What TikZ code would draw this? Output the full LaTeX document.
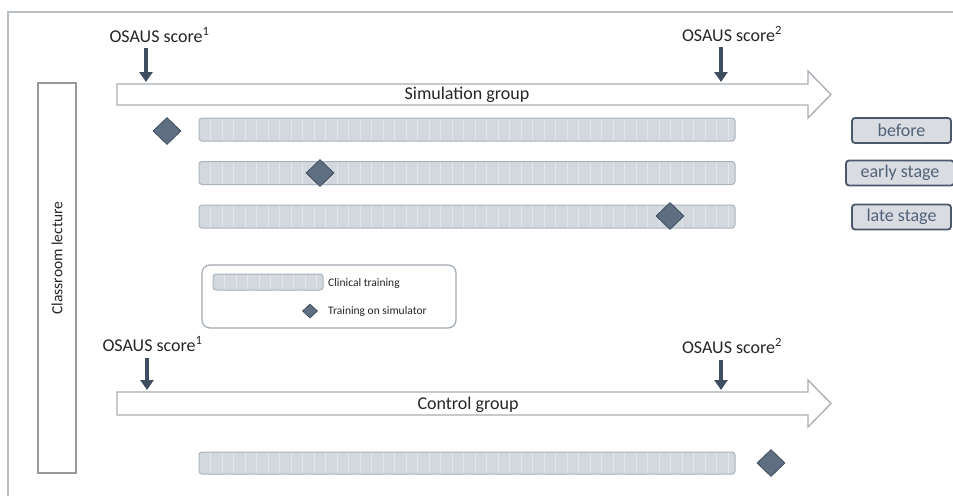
\documentclass[tikz,border=0pt]{standalone}
\usepackage{fontspec}
\setmainfont{Carlito}
\usetikzlibrary{shapes.geometric,arrows.meta}
\definecolor{txt}{HTML}{262626}
\definecolor{slate}{HTML}{3E4E60}
\definecolor{dia}{HTML}{5F6E80}
\definecolor{barfill}{HTML}{D3D8DE}
\definecolor{barline}{HTML}{AAB3BD}
\definecolor{stripe}{HTML}{E3E7EB}
\definecolor{frame}{HTML}{B9BEC3}
\definecolor{arrowline}{HTML}{A9AEB3}
\definecolor{tagfill}{HTML}{D9DCE0}
\definecolor{tagline}{HTML}{4A5869}
\definecolor{tagtxt}{HTML}{52627A}
\definecolor{legline}{HTML}{A3AAB2}
\begin{document}
\begin{tikzpicture}[x=1pt,y=-1pt]
\tikzset{
 lab/.style={font=\fontsize{18}{20}\selectfont, text=txt, inner sep=0pt},
 scorearrow/.style={draw=slate, line width=3.5pt, -{Triangle[width=13pt,length=10pt]}},
 grouparrow/.style={draw=arrowline, line width=1.3pt, fill=white, line join=miter},
 diam/.style={diamond, fill=dia, draw=slate, line width=0.8pt, minimum width=28pt, minimum height=27pt, inner sep=0pt},
 tagbox/.style={draw=tagline, line width=1.8pt, fill=tagfill, rounded corners=3pt, text=tagtxt, font=\fontsize{18}{20}\selectfont, inner sep=0pt, minimum height=25pt},
 clinbar/.style={draw=barline, line width=1pt, fill=barfill, rounded corners=3pt, inner sep=0pt,
   path picture={\foreach \k in {0,11.5,...,560} \draw[stripe, line width=1pt] ([xshift=\k pt]path picture bounding box.north west) -- ([xshift=\k pt]path picture bounding box.south west);}},
 legtext/.style={font=\fontsize{11.5}{13}\selectfont, text=txt, inner sep=0pt, anchor=west},
}
\useasboundingbox (0,0) rectangle (953,496);
\fill[white] (0,0) rectangle (953,496);
% frame
\draw[frame, line width=1.5pt] (8,496) -- (8,12) -- (953,12);

% classroom lecture
\node[draw=black!40, line width=1.2pt, minimum width=38pt, minimum height=390pt, inner sep=0pt] (cl) at (57,278) {};
\node[lab, rotate=90, font=\fontsize{15.5}{18}\selectfont] (cltext) at (57,258) {Classroom lecture};

% simulation group arrow
\coordinate (sA) at (117,84);
\draw[grouparrow] (sA) -- (808,84) -- (808,71) -- (831,94.5) -- (808,118) -- (808,105) -- (117,105) -- cycle;
\node[lab] (sim) at (467,95) {Simulation group};

\node[lab] (s1) at (159.5,35) {OSAUS score\textsuperscript{1}};
\node[lab] (s2) at (732,34) {OSAUS score\textsuperscript{2}};
\coordinate (s1t) at (146,82);
\coordinate (s2t) at (721,82);
\draw[scorearrow, shorten <=6pt] (s1.south -| s1t) -- (s1t);
\draw[scorearrow, shorten <=6pt] (s2.south -| s2t) -- (s2t);

% simulation bars
\node[clinbar, minimum width=536pt, minimum height=23pt] (b1) at (467,129.5) {};
\node[clinbar, minimum width=536pt, minimum height=23pt] (b2) at (467,173) {};
\node[clinbar, minimum width=536pt, minimum height=23pt] (b3) at (467,216.5) {};
\node[diam] (d1) at (167,131) {};
\node[diam] (d2) at (320,173) {};
\node[diam] (d3) at (670,216) {};

% tags
\node[tagbox, minimum width=99pt] (t1) at (901.5,130.5) {before};
\node[tagbox, minimum width=108pt] (t2) at (900,173) {early stage};
\node[tagbox, minimum width=99pt] (t3) at (901.5,217) {late stage};

% legend
\node[draw=legline, line width=1.2pt, rounded corners=8pt, minimum width=254pt, minimum height=63pt, inner sep=0pt] (legend) at (329,296.5) {};
\node[clinbar, minimum width=110pt, minimum height=16pt] (lb) at (268,282) {};
\node[legtext] (lt1) at (328,283) {Clinical training};
\node[diam, minimum width=15pt, minimum height=14pt] (ld) at (310,311) {};
\node[legtext] (lt2) at (328,311) {Training on simulator};

% control group arrow
\coordinate (cA) at (117,392);
\draw[grouparrow] (cA) -- (808,392) -- (808,380) -- (831,403.5) -- (808,427) -- (808,415) -- (117,415) -- cycle;
\node[lab] (ctrl) at (468,405) {Control group};

\node[lab] (c1) at (152.5,344) {OSAUS score\textsuperscript{1}};
\node[lab] (c2) at (732,346) {OSAUS score\textsuperscript{2}};
\coordinate (c1t) at (147,390);
\coordinate (c2t) at (721,390);
\draw[scorearrow, shorten <=7pt] (c1.south -| c1t) -- (c1t);
\draw[scorearrow, shorten <=7pt] (c2.south -| c2t) -- (c2t);

\node[clinbar, minimum width=536pt, minimum height=22pt] (b4) at (467,463) {};
\node[diam] (d4) at (771,463) {};
\end{tikzpicture}
\end{document}
